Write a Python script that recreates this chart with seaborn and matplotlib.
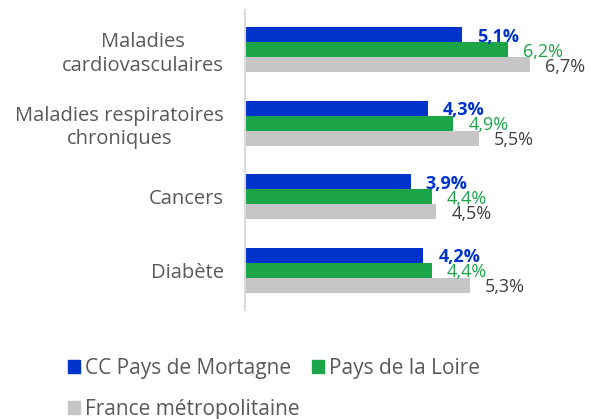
import pandas as pd
import seaborn as sns
import matplotlib.pyplot as plt
from matplotlib.patches import Patch

# Data
categories = ["Maladies\ncardiovasculaires", "Maladies respiratoires\nchroniques", "Cancers", "Diabète"]
series = ["CC Pays de Mortagne", "Pays de la Loire", "France métropolitaine"]
mortagne = [5.1, 4.3, 3.9, 4.2]
loire = [6.2, 4.9, 4.4, 4.4]
france = [6.7, 5.5, 4.5, 5.3]

colors = ["#0033CC", "#1BA548", "#C6C6C6"]
label_colors = ["#0033CC", "#1BA548", "#404040"]

df = pd.DataFrame({
    "cat": categories * 3,
    "serie": [series[0]] * 4 + [series[1]] * 4 + [series[2]] * 4,
    "val": mortagne + loire + france,
})

sns.set_style("white")
plt.rcParams["font.family"] = ["Open Sans", "DejaVu Sans"]

fig = plt.figure(figsize=(5.9, 4.19), dpi=100)
ax = fig.add_axes([245 / 590, 1 - 310 / 419, 1 - 245 / 590, 300 / 419])

sns.barplot(data=df, y="cat", x="val", hue="serie", order=categories, hue_order=series,
            palette=colors, width=0.61, linewidth=0, saturation=1, legend=False, ax=ax)

ax.set_xlim(0, 8.12)
ax.set_ylim(3.54, -0.54)
ax.set_xlabel("")
ax.set_ylabel("")
ax.set_xticks([])
for s in ["top", "right", "bottom"]:
    ax.spines[s].set_visible(False)
ax.spines["left"].set_color("#D9D9D9")
ax.spines["left"].set_linewidth(1.5)
ax.tick_params(axis="y", length=0, pad=15, labelsize=14.5, labelcolor="#595959")
for t in ax.get_yticklabels():
    t.set_multialignment("center")
    t.set_linespacing(1.25)

# Value labels
for i, cont in enumerate(ax.containers):
    for bar in cont:
        w = bar.get_width()
        yc = bar.get_y() + bar.get_height() / 2
        ax.annotate(f"{w:.1f}%".replace(".", ","), (w, yc), xytext=(15, -2),
                    textcoords="offset pixels", va="center", ha="left",
                    fontsize=13, color=label_colors[i],
                    fontweight="bold" if i == 0 else "normal")

# Legend
handles = [Patch(color=colors[0], label=series[0]),
           Patch(color=colors[2], label=series[2]),
           Patch(color=colors[1], label=series[1])]
leg = fig.legend(handles=handles, ncol=2, loc="upper left", bbox_to_anchor=(0.083, 0.19),
                 frameon=False, fontsize=15, handlelength=0.58, handleheight=0.58,
                 handletextpad=0.24, columnspacing=0.62, labelspacing=0.95)
for t in leg.get_texts():
    t.set_color("#595959")

fig.savefig("out.png", dpi=100)
